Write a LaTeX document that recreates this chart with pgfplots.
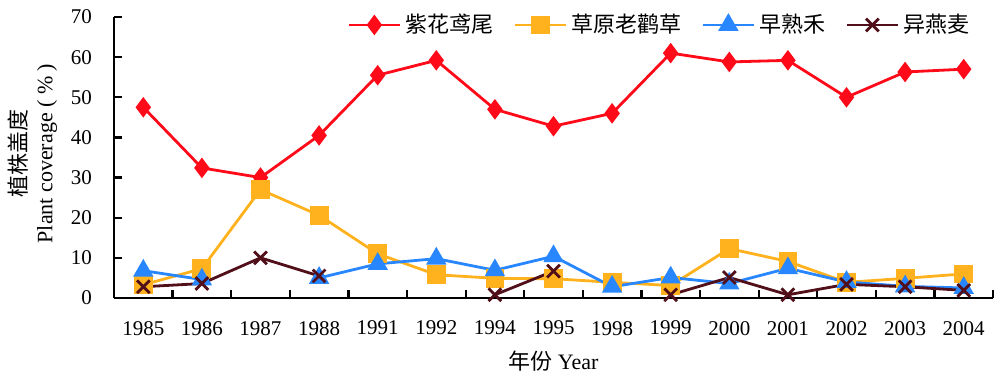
\documentclass[border=0pt]{standalone}
\usepackage{fontspec}
\setmainfont{Liberation Serif}
\newfontfamily\cjk{Noto Sans CJK SC}
\usepackage{pgfplots}
\pgfplotsset{compat=1.18}
\definecolor{cred}{RGB}{255,10,25}
\definecolor{corange}{RGB}{255,178,30}
\definecolor{cblue}{RGB}{40,135,255}
\definecolor{cbrown}{RGB}{80,15,25}
\begin{document}
\begin{tikzpicture}
\begin{axis}[
  scale only axis,
  width=439.5pt, height=140.5pt,
  xmin=-0.5, xmax=14.5, ymin=0, ymax=70,
  axis lines*=left,
  axis line style={line width=1.3pt},
  tick align=inside,
  ytick={0,10,...,70},
  major tick length=4pt,
  tick style={line width=1.1pt, black},
  xtick={-0.5,0.5,...,14.5},
  xticklabel=\empty,
  extra x ticks={0,1,2,3,4,5,6,7,8,9,10,11,12,13,14},
  extra x tick labels={1985,1986,1987,1988,1991,1992,1994,1995,1998,1999,2000,2001,2002,2003,2004},
  extra x tick style={major tick length=0pt, xticklabel style={yshift=-8pt}},
  yticklabel style={xshift=-7.5pt},
  /pgf/number format/assume math mode=true,
  tick label style={font=\fontsize{10.5}{12}\selectfont},
  xlabel={{\cjk 年份} Year},
  xlabel style={font=\fontsize{11}{13}\selectfont, yshift=-1pt},
  ylabel={{\cjk 植株盖度}\\Plant coverage ( \% )},
  ylabel style={align=center, font=\fontsize{11}{13}\selectfont, xshift=2pt},
  unbounded coords=jump,
  legend columns=4,
  legend style={draw=none, fill=none, at={(rel axis cs:0.985,1.04)}, anchor=north east,
     font=\fontsize{11}{13}\selectfont\cjk, /tikz/every even column/.append style={column sep=8pt}},
  legend image code/.code={\draw[mark repeat=2,mark phase=2] plot coordinates {(0cm,0cm)(0.45cm,0cm)(0.9cm,0cm)};},
  every axis plot/.append style={line width=1.4pt},
]
\coordinate (bl) at (rel axis cs:0,0);
\coordinate (tr) at (rel axis cs:1,1);
\addplot[color=cred, mark=diamond*, mark size=4pt, mark options={solid}] coordinates {
 (0,47.5)(1,32.4)(2,30)(3,40.5)(4,55.5)(5,59.2)(6,47)(7,42.8)(8,46)(9,61)(10,58.8)(11,59.2)(12,50)(13,56.3)(14,57)};
\addlegendentry{紫花鸢尾}
\addplot[color=corange, mark=square*, mark size=4pt] coordinates {
 (0,3.3)(1,7.3)(2,27)(3,20.6)(4,11)(5,5.8)(6,4.9)(7,4.8)(8,3.9)(9,3.1)(10,12.3)(11,9.1)(12,3.9)(13,4.9)(14,6)};
\addlegendentry{草原老鹳草}
\addplot[color=cblue, mark=triangle*, mark size=4.5pt] coordinates {
 (0,6.8)(1,4.6)(2,nan)(3,5)(4,8.5)(5,9.8)(6,6.9)(7,10.4)(8,2.8)(9,5.1)(10,3.6)(11,7.4)(12,4)(13,2.9)(14,2.5)};
\addlegendentry{早熟禾}
\addplot[color=cbrown, mark=x, mark size=4.5pt] coordinates {
 (0,2.8)(1,3.6)(2,10)(3,5.5)(4,nan)(5,nan)(6,0.8)(7,6.7)(8,nan)(9,0.8)(10,5.1)(11,0.8)(12,3.4)(13,2.8)(14,1.9)};
\addlegendentry{异燕麦}
\end{axis}
\pgfresetboundingbox
\path[use as bounding box] ([shift={(-57pt,-40pt)}]bl) rectangle ([shift={(3.5pt,8.5pt)}]tr);
\end{tikzpicture}
\end{document}
